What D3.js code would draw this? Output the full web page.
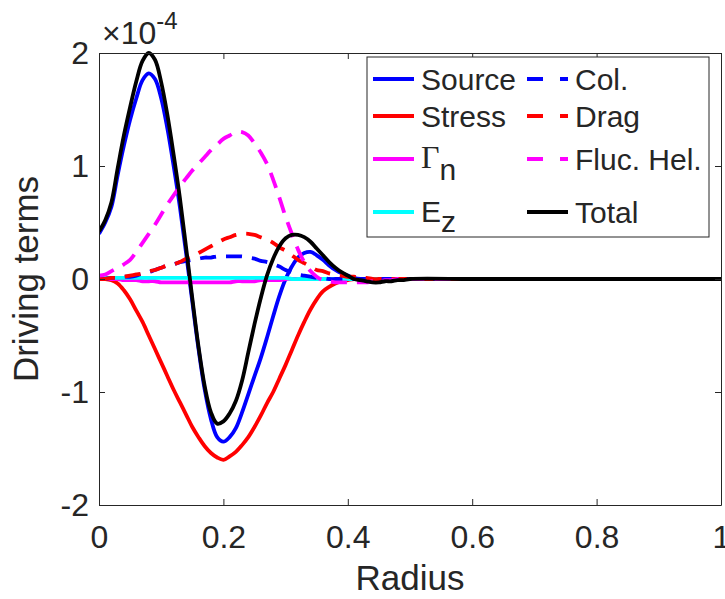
<html>
<head>
<script src="https://d3js.org/d3.v7.min.js"></script>
<style>
body { margin: 0; background: #fff; }
text { font-family: "Liberation Sans", Arial, sans-serif; fill: #262626; }
</style>
</head>
<body>
<svg id="chart" width="725" height="599"></svg>
<script>
// values are in units of 1e-4
const radius = [0,0.01,0.02,0.03,0.04,0.05,0.06,0.07,0.08,0.09,
  0.10,0.11,0.12,0.13,0.14,0.15,0.16,0.17,0.18,0.19,
  0.20,0.21,0.22,0.23,0.24,0.25,0.26,0.27,0.28,0.29,
  0.30,0.31,0.32,0.33,0.34,0.35,0.36,0.37,0.38,0.39,
  0.40,0.41,0.42,0.43,0.44,0.45,0.46,0.47,0.48,0.49,
  0.50,0.6,0.7,0.8,0.9,1.0];

const source = [0.4,0.5,0.64,0.92,1.18,1.41,1.6,1.76,1.82,1.77,
  1.6,1.33,1.0,0.64,0.23,-0.2,-0.62,-0.98,-1.24,-1.4,
  -1.44,-1.4,-1.32,-1.18,-1.02,-0.86,-0.7,-0.52,-0.33,-0.15,
  0.0,0.11,0.19,0.23,0.24,0.21,0.17,0.12,0.08,0.05,
  0.03,0.01,0,0,0,0,0,0,0,0,
  0,0,0,0,0,0];
const stress = [0,0,-0.01,-0.04,-0.1,-0.18,-0.28,-0.38,-0.5,-0.62,
  -0.74,-0.86,-0.98,-1.09,-1.2,-1.31,-1.4,-1.48,-1.54,-1.58,
  -1.6,-1.57,-1.53,-1.47,-1.4,-1.31,-1.21,-1.1,-1.0,-0.88,
  -0.76,-0.63,-0.5,-0.38,-0.27,-0.18,-0.11,-0.07,-0.04,-0.02,
  -0.01,0,0,0,0,0,0,0,0,0,
  0,0,0,0,0,0];
const gammaN = [0.02,0.01,0,0,-0.01,-0.01,-0.01,-0.02,-0.02,-0.02,
  -0.03,-0.03,-0.03,-0.03,-0.03,-0.03,-0.03,-0.03,-0.03,-0.03,
  -0.03,-0.03,-0.02,-0.02,-0.02,-0.02,-0.01,-0.01,-0.01,-0.01,
  0,0,0,0,0,0,0,0,0,0,
  0,0,0,0,0,0,0,0,0,0,
  0,0,0,0,0,0];
const ez = [0.01,0.01,0.01,0.01,0.01,0.01,0.01,0.01,0.01,0.01,
  0.01,0.01,0.01,0.01,0.01,0.01,0.01,0.01,0.01,0.01,
  0.01,0.01,0.01,0.01,0.01,0.01,0.01,0.01,0.01,0.01,
  0.01,0,0,0,0,0,0,0,0,0,
  0,0,0,0,0,0,0,0,0,0,
  0,0,0,0,0,0];
const col = [0,0,0.01,0.01,0.02,0.02,0.03,0.05,0.06,0.08,
  0.1,0.12,0.13,0.15,0.16,0.17,0.18,0.19,0.19,0.2,
  0.2,0.2,0.2,0.2,0.19,0.18,0.16,0.15,0.13,0.11,
  0.08,0.06,0.04,0.03,0.02,0.01,0.01,0,0,0,
  0,0,0,0,0,0,0,0,0,0,
  0,0,0,0,0,0];
const drag = [0,0,0.01,0.01,0.02,0.03,0.04,0.05,0.07,0.08,
  0.1,0.12,0.13,0.15,0.18,0.2,0.23,0.26,0.29,0.32,
  0.35,0.37,0.39,0.4,0.4,0.39,0.37,0.35,0.32,0.28,
  0.25,0.21,0.17,0.14,0.11,0.08,0.07,0.05,0.04,0.03,
  0.02,0.02,0.01,0.01,0,0,0,0,0,0,
  0,0,0,0,0,0];
const flucHel = [0.03,0.04,0.07,0.1,0.13,0.17,0.24,0.32,0.4,0.48,
  0.57,0.66,0.74,0.82,0.89,0.96,1.02,1.08,1.14,1.19,
  1.24,1.27,1.3,1.3,1.27,1.2,1.12,1.02,0.88,0.72,
  0.55,0.4,0.26,0.15,0.07,0.02,-0.01,-0.02,-0.03,-0.03,
  -0.03,-0.03,-0.03,-0.03,-0.02,-0.02,-0.01,-0.01,0,0,
  0,0,0,0,0,0];
const total = [0.42,0.52,0.68,0.98,1.27,1.52,1.75,1.93,2.0,1.94,
  1.74,1.45,1.1,0.72,0.28,-0.17,-0.6,-0.95,-1.18,-1.28,
  -1.26,-1.19,-1.08,-0.9,-0.65,-0.4,-0.17,0.03,0.18,0.29,
  0.36,0.39,0.39,0.37,0.33,0.27,0.21,0.15,0.1,0.06,
  0.03,0.0,-0.01,-0.02,-0.03,-0.03,-0.02,-0.02,-0.01,-0.01,
  0,0,0,0,0,0];

const xTicks = [0, 0.2, 0.4, 0.6, 0.8, 1];
const yTicks = [-2, -1, 0, 1, 2];

const series = [
  {name: "Source", values: source, color: "#0000ff", dash: false, col: 0},
  {name: "Stress", values: stress, color: "#ff0000", dash: false, col: 0},
  {name: "Gamma", values: gammaN, color: "#ff00ff", dash: false, col: 0},
  {name: "Ez", values: ez, color: "#00ffff", dash: false, col: 0},
  {name: "Col.", values: col, color: "#0000ff", dash: true, col: 1},
  {name: "Drag", values: drag, color: "#ff0000", dash: true, col: 1},
  {name: "Fluc. Hel.", values: flucHel, color: "#ff00ff", dash: true, col: 1},
  {name: "Total", values: total, color: "#000000", dash: false, col: 1}
];

const svg = d3.select("#chart");
const pLeft = 99, pRight = 721, pTop = 53, pBottom = 505;

const x = d3.scaleLinear().domain([0, 1]).range([pLeft, pRight]);
const y = d3.scaleLinear().domain([-2, 2]).range([pBottom, pTop]);

svg.append("clipPath").attr("id", "clip")
  .append("rect").attr("x", pLeft).attr("y", pTop - 3)
  .attr("width", pRight - pLeft).attr("height", pBottom - pTop + 3);

// lines
const line = d3.line()
  .x(function(d, i) { return x(radius[i]); })
  .y(function(d) { return y(d); })
  .curve(d3.curveCatmullRom.alpha(0.5));

svg.append("g").attr("clip-path", "url(#clip)")
  .selectAll("path")
  .data(series)
  .enter().append("path")
    .attr("d", function(d) { return line(d.values); })
    .attr("fill", "none")
    .attr("stroke", function(d) { return d.color; })
    .attr("stroke-width", 3.8)
    .attr("stroke-linejoin", "round")
    .attr("stroke-dasharray", function(d) { return d.dash ? "16,10" : null; });

// axes
function styleAxis(g) {
  g.attr("font-size", null).attr("font-family", null);
  g.select(".domain").attr("stroke", "#262626");
  g.selectAll(".tick line").attr("stroke", "#262626");
  g.selectAll(".tick text").attr("fill", "#262626").style("font-size", "32px");
}

svg.append("g")
  .attr("transform", "translate(0," + pBottom + ")")
  .call(d3.axisBottom(x).tickValues(xTicks).tickSizeInner(-6).tickSizeOuter(0).tickPadding(20)
    .tickFormat(function(d) { return d === 0 || d === 1 ? d : d.toFixed(1); }))
  .call(styleAxis);

svg.append("g")
  .attr("transform", "translate(" + pLeft + ",0)")
  .call(d3.axisLeft(y).tickValues(yTicks).tickSizeInner(-6).tickSizeOuter(0).tickPadding(10)
    .tickFormat(function(d) { return d < 0 ? "-" + Math.abs(d) : d; }))
  .call(styleAxis);

svg.append("g")
  .attr("transform", "translate(0," + pTop + ")")
  .call(d3.axisTop(x).tickValues(xTicks).tickSizeInner(-6).tickSizeOuter(0).tickFormat(""))
  .call(styleAxis);

svg.append("g")
  .attr("transform", "translate(" + pRight + ",0)")
  .call(d3.axisRight(y).tickValues(yTicks).tickSizeInner(-6).tickSizeOuter(0).tickFormat(""))
  .call(styleAxis);

// exponent
const expo = svg.append("text").attr("x", 102).attr("y", 44).style("font-size", "32px");
expo.append("tspan").text("\u00d710");
expo.append("tspan").attr("dy", -15).style("font-size", "24px").text("-4");

// axis labels
svg.append("text")
  .attr("x", (pLeft + pRight) / 2).attr("y", 590)
  .attr("text-anchor", "middle")
  .style("font-size", "35px")
  .text("Radius");

svg.append("text")
  .attr("transform", "translate(38," + ((pTop + pBottom) / 2) + ") rotate(-90)")
  .attr("text-anchor", "middle")
  .style("font-size", "35px")
  .text("Driving terms");

// legend
const legend = svg.append("g");
legend.append("rect")
  .attr("x", 367).attr("y", 57).attr("width", 342).attr("height", 180)
  .attr("fill", "#fff").attr("stroke", "#262626").attr("stroke-width", 1);

const rowY = [79, 116, 159, 212];
const colX = [373, 527];

series.forEach(function(s, i) {
  const r = i % 4, c = s.col;
  const ly = rowY[r], lx = colX[c];
  legend.append("line")
    .attr("x1", lx).attr("x2", lx + 41).attr("y1", ly).attr("y2", ly)
    .attr("stroke", s.color).attr("stroke-width", 3.8)
    .attr("stroke-dasharray", s.dash ? "16,17,8" : null);
  const tx = lx + 48;
  if (s.name === "Gamma") {
    const t = legend.append("text").attr("x", tx).attr("y", ly + 9).style("font-size", "30px");
    t.append("tspan").style("font-family", "'Liberation Serif', serif").style("font-size", "32px").text("\u0393");
    t.append("tspan").attr("dy", 12).text("n");
  } else if (s.name === "Ez") {
    const t = legend.append("text").attr("x", tx).attr("y", ly + 10).style("font-size", "30px");
    t.append("tspan").text("E");
    t.append("tspan").attr("dy", 10).text("z");
  } else {
    legend.append("text").attr("x", tx).attr("y", ly + 11).style("font-size", "30px").text(s.name);
  }
});
</script>
</body>
</html>
